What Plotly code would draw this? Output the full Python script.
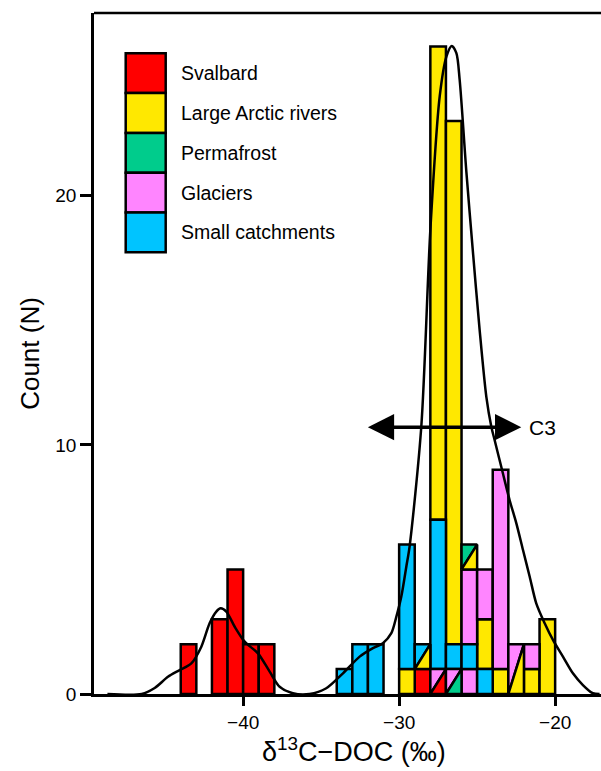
import plotly.graph_objects as go

# ---------------- data ----------------
categories = ["Svalbard", "Large Arctic rivers", "Permafrost", "Glaciers", "Small catchments"]
colors = ["#FF0000", "#FFE800", "#00CC8C", "#FF85FF", "#00C4FF"]

# full cells: bin left edge, stacked base, stacked top (counts)
svalbard_bins = [-44, -42, -41, -40, -39, -29]
svalbard_base = [0, 0, 0, 0, 0, 0]
svalbard_top = [2, 3, 5, 2, 2, 1]

rivers_bins = [-30, -28, -27, -25, -24, -22, -21]
rivers_base = [0, 7, 2, 1, 0, 0, 0]
rivers_top = [1, 26, 23, 3, 1, 1, 3]

permafrost_bins = []
permafrost_base = []
permafrost_top = []

glaciers_bins = [-26, -26, -25, -24, -22]
glaciers_base = [0, 2, 3, 1, 1]
glaciers_top = [1, 5, 5, 9, 2]

small_bins = [-34, -33, -32, -30, -28, -27, -26, -25]
small_base = [0, 0, 0, 1, 1, 1, 1, 0]
small_top = [1, 2, 2, 6, 7, 2, 2, 1]

# shared cells split diagonally: upper-left / lower-right category
split_bins = [-29, -28, -27, -26, -23]
split_base = [1, 0, 0, 5, 0]
split_top = [2, 1, 1, 6, 2]
split_upper = ["Small catchments", "Glaciers", "Glaciers", "Permafrost", "Glaciers"]
split_lower = ["Large Arctic rivers", "Svalbard", "Permafrost", "Large Arctic rivers", "Large Arctic rivers"]

# density curve (scaled to counts)
kde_x = [-48.7, -46.5, -45.67, -44.82, -44.07, -43.32, -42.68, -42.15, -41.72, -41.44,
         -41.08, -40.54, -39.90, -39.05, -38.30, -37.66, -36.81, -35.74, -34.67, -33.60,
         -32.53, -31.68, -31.04, -30.50, -30.18, -29.86, -29.54, -29.33, -28.58, -28.00,
         -27.40, -26.97, -26.63, -26.33, -26.12, -25.69, -25.29, -24.84, -24.41, -24.09,
         -23.88, -23.35, -22.92, -22.49, -22.06, -21.63, -21.21, -20.67, -20.14, -19.50,
         -18.86, -18.22, -17.58, -17.15]
kde_y = [0.0, 0.0, 0.24, 0.69, 0.96, 1.23, 1.90, 2.84, 3.31, 3.44,
         3.31, 2.70, 2.10, 1.63, 0.90, 0.29, 0.03, 0.0, 0.23, 0.83,
         1.50, 1.84, 2.04, 2.44, 3.10, 3.91, 5.11, 5.92, 10.73, 18.63,
         23.99, 25.59, 26.02, 25.73, 24.66, 20.96, 17.9, 14.62, 11.93, 10.73,
         10.20, 8.86, 7.79, 6.86, 5.78, 4.71, 3.64, 2.84, 2.17, 1.50,
         0.83, 0.36, 0.03, 0.0]

# C3 range arrow
c3_left = -32.1
c3_right = -22.17
c3_level = 10.71
c3_label = "C3"

x_ticks = [-40, -30, -20]
y_ticks = [0, 10, 20]
x_range = [-49.56, -17.06]
y_range = [0, 27.34]

# ---------------- figure ----------------
FONT = "Liberation Sans, Arial, Helvetica, sans-serif"
color_of = dict(zip(categories, colors))
LW = 2.5

fig = go.Figure()

full = {
    "Svalbard": (svalbard_bins, svalbard_base, svalbard_top),
    "Large Arctic rivers": (rivers_bins, rivers_base, rivers_top),
    "Permafrost": (permafrost_bins, permafrost_base, permafrost_top),
    "Glaciers": (glaciers_bins, glaciers_base, glaciers_top),
    "Small catchments": (small_bins, small_base, small_top),
}
for cat in categories:
    bins, base, top = full[cat]
    if not bins:
        continue
    fig.add_trace(go.Bar(
        x=[b + 0.5 for b in bins],
        y=[t - b0 for t, b0 in zip(top, base)],
        base=base, width=1,
        marker=dict(color=color_of[cat], line=dict(color="black", width=LW)),
        name=cat, showlegend=False,
    ))

for b, y0, y1, up, lo in zip(split_bins, split_base, split_top, split_upper, split_lower):
    x0, x1 = b, b + 1
    fig.add_trace(go.Scatter(
        x=[x0, x0, x1, x0], y=[y0, y1, y1, y0], mode="lines", fill="toself",
        fillcolor=color_of[up], line=dict(color="black", width=LW),
        showlegend=False, hoverinfo="skip"))
    fig.add_trace(go.Scatter(
        x=[x0, x1, x1, x0], y=[y0, y0, y1, y0], mode="lines", fill="toself",
        fillcolor=color_of[lo], line=dict(color="black", width=LW),
        showlegend=False, hoverinfo="skip"))

fig.add_trace(go.Scatter(
    x=kde_x, y=kde_y, mode="lines",
    line=dict(color="black", width=2.5, shape="spline", smoothing=0.8),
    showlegend=False, hoverinfo="skip"))

# arrow
fig.add_annotation(x=c3_right, y=c3_level, ax=c3_left, ay=c3_level,
                   xref="x", yref="y", axref="x", ayref="y", text="",
                   showarrow=True, arrowhead=2, startarrowhead=2, arrowside="end+start",
                   arrowwidth=3.5, arrowsize=1.5, startarrowsize=1.5, arrowcolor="black",
                   standoff=0, startstandoff=0)
fig.add_annotation(x=c3_right + 0.35, y=c3_level, xref="x", yref="y", text=c3_label,
                   showarrow=False, xanchor="left", yanchor="middle",
                   font=dict(size=21, color="black", family=FONT))

# legend (drawn)
W, H, L, T = 601, 771, 94, 13
PW, PH = W - L, 694 - T
def px(x):
    return (x - L) / PW
def py(y):
    return (694 - y) / PH
for i, cat in enumerate(categories):
    top = 53.3 + 39.8 * i
    fig.add_shape(type="rect", xref="paper", yref="paper",
                  x0=px(125.7), x1=px(165.7), y0=py(top + 39.8), y1=py(top),
                  fillcolor=color_of[cat], line=dict(color="black", width=LW))
    fig.add_annotation(xref="paper", yref="paper", x=px(179), y=py(top + 19.9),
                       text=cat, showarrow=False, xanchor="left", yanchor="middle",
                       font=dict(size=19.5, color="black", family=FONT))

# top frame line
fig.add_shape(type="line", xref="paper", yref="paper", x0=0, x1=1, y0=1, y1=1,
              line=dict(color="black", width=LW))

# x title
fig.add_annotation(xref="paper", yref="paper", x=px(354), y=py(750),
                   text="δ<sup>13</sup>C−DOC (‰)", showarrow=False,
                   xanchor="center", yanchor="middle",
                   font=dict(size=27, color="black", family=FONT))

fig.update_layout(
    width=W, height=H, margin=dict(l=L, r=0, t=T, b=H - 694),
    plot_bgcolor="white", paper_bgcolor="white",
    barmode="overlay", showlegend=False,
    font=dict(family=FONT, color="black"),
)
fig.update_xaxes(range=x_range, tickvals=x_ticks, ticktext=[f"−{abs(v)}" for v in x_ticks],
                 showgrid=False, zeroline=False, showline=True, linecolor="black",
                 linewidth=2.5, ticks="outside", ticklen=9, tickwidth=2.5, tickcolor="black",
                 tickfont=dict(size=19, family=FONT, color="black"))
fig.update_yaxes(range=y_range, tickvals=y_ticks, showgrid=False, zeroline=False,
                 showline=True, linecolor="black", linewidth=2.5, ticks="outside",
                 ticklen=11, tickwidth=2.5, tickcolor="black",
                 tickfont=dict(size=19, family=FONT, color="black"),
                 title=dict(text="Count (N)", font=dict(size=26, family=FONT, color="black"),
                            standoff=9))

fig.write_html("out.html")
